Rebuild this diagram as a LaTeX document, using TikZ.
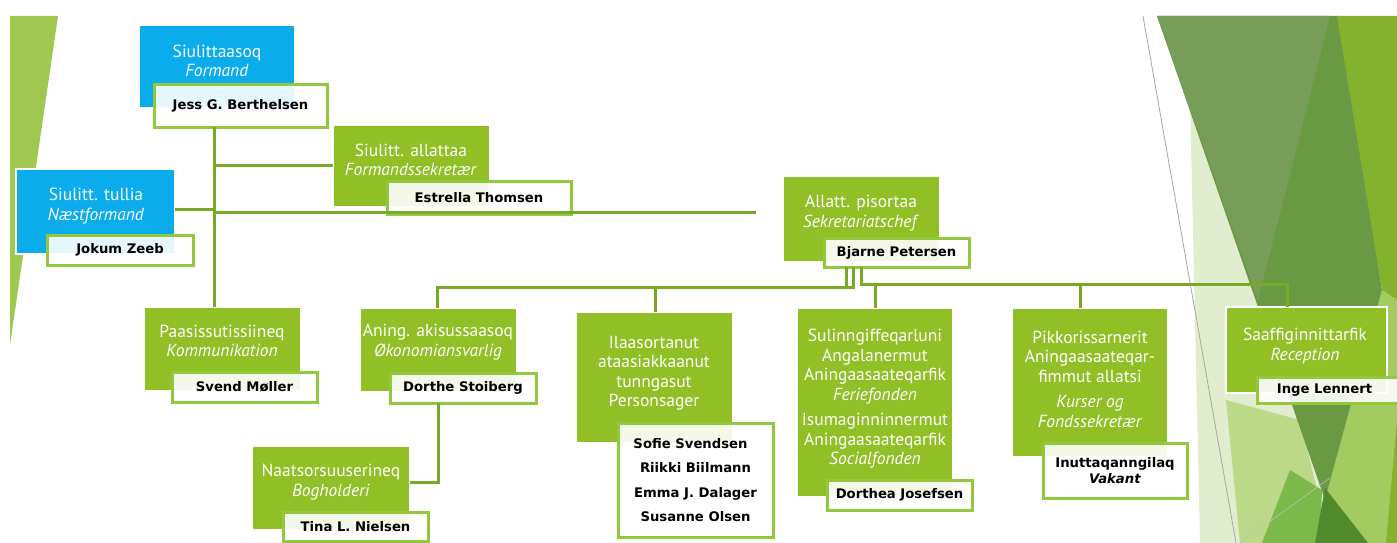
\documentclass[tikz,border=0pt]{standalone}
\usepackage{fontspec}
\setmainfont{PT Sans}
\newfontfamily\namefont{DejaVu Sans}
\definecolor{blueT}{RGB}{10,172,236}
\definecolor{greenT}{RGB}{144,192,38}
\definecolor{nborder}{RGB}{146,200,60}
\definecolor{conncol}{RGB}{120,170,40}
\definecolor{wedge}{RGB}{160,200,80}
\definecolor{bgdark}{RGB}{106,153,68}
\definecolor{bgmuted}{RGB}{120,157,88}
\definecolor{bgbright}{RGB}{132,178,47}
\definecolor{bgpale}{RGB}{226,237,208}
\definecolor{bglight}{RGB}{188,217,138}
\definecolor{bgmid}{RGB}{125,184,74}
\definecolor{bgrlight}{RGB}{163,203,98}
\definecolor{bgdeep}{RGB}{80,138,44}
\begin{document}
\begin{tikzpicture}[x=1pt,y=-1pt,
  tbox/.style={draw=white, line width=1.5pt, anchor=north west, inner sep=0pt, outer sep=0pt},
  ttext/.style={text=white, align=center, inner sep=0pt, font=\fontsize{17.5}{19.5}\selectfont},
  nbox/.style={draw=nborder, line width=3pt, fill=white, fill opacity=.9, text opacity=1, anchor=north west, inner sep=0pt, outer sep=0pt, align=center, font=\namefont\bfseries\fontsize{13.2}{15}\selectfont},
  conn/.style={draw=conncol, line width=3pt}]
\useasboundingbox (0,0) rectangle (1397,543);
% ---------- background ----------
\fill[wedge] (10,16) -- (58,16) -- (10,345) -- cycle;
\fill[bgpale] (1190,100) -- (1200,543) -- (1340,543) -- cycle;
\fill[bglight] (1226,400) -- (1240,543) -- (1330,543) -- (1300,420) -- cycle;
\fill[bgmid] (1290,470) -- (1262,543) -- (1320,543) -- (1322,490) -- cycle;
\fill[bgrlight] (1382,290) -- (1397,300) -- (1397,543) -- (1325,543) -- (1325,500) -- cycle;
\fill[bgdark] (1157,16) -- (1340,16) -- (1382,290) -- (1325,500) -- cycle;
\fill[bgmuted] (1157,16) -- (1330,16) -- (1258,300) -- cycle;
\fill[bgdeep] (1325,488) -- (1315,543) -- (1368,543) -- cycle;
\fill[bgbright] (1337,16) -- (1397,16) -- (1397,300) -- (1382,290) -- cycle;
\fill[bgbright] (1397,420) -- (1397,543) -- (1386,543) -- cycle;
\draw[gray!70, line width=0.8pt] (1143,16) -- (1236,543);
\draw[gray!50, line width=0.6pt] (1240,543) -- (1330,478);
% ---------- boxes ----------
% Formand
\node[tbox, fill=blueT, minimum width=156, minimum height=83] (t1) at (139,25) {};
\node[ttext] (t1l) at (217,61) {Siulittaasoq\\\textit{Formand}};
\node[nbox, minimum width=173, minimum height=43] (n1) at (154,84) {Jess G. Berthelsen};
% Naestformand
\node[tbox, fill=blueT, minimum width=159, minimum height=85] (t2) at (16,169) {};
\node[ttext] (t2l) at (96,206) {Siulitt. tullia\\\textit{Næstformand}};
\node[nbox, minimum width=146, minimum height=30] (n2) at (47,235) {Jokum Zeeb};
% Formandssekretaer
\node[tbox, fill=greenT, minimum width=157, minimum height=82] (t3) at (333,125) {};
\node[ttext] (t3l) at (411,160) {Siulitt. allattaa\\\textit{Formandssekretær}};
\node[nbox, minimum width=184, minimum height=33] (n3) at (387,181) {Estrella Thomsen};
% Sekretariatschef
\node[tbox, fill=greenT, minimum width=157, minimum height=86] (t4) at (783,176) {};
\node[ttext] (t4l) at (861,213) {Allatt. pisortaa\\\textit{Sekretariatschef}};
\node[nbox, minimum width=145, minimum height=29] (n4) at (824,238) {Bjarne Petersen};
% Kommunikation
\node[tbox, fill=greenT, minimum width=157, minimum height=84] (t5) at (144,307) {};
\node[ttext] (t5l) at (222,341) {Paasissutissiineq\\\textit{Kommunikation}};
\node[nbox, minimum width=145, minimum height=30] (n5) at (172,372) {Svend Møller};
% Okonomiansvarlig
\node[tbox, fill=greenT, minimum width=157, minimum height=84] (t6) at (360,308) {};
\node[ttext] (t6l) at (438,342) {Aning. akisussaasoq\\\textit{Økonomiansvarlig}};
\node[nbox, minimum width=146, minimum height=30] (n6) at (390,373) {Dorthe Stoiberg};
% Bogholderi
\node[tbox, fill=greenT, minimum width=158, minimum height=84] (t7) at (252,446) {};
\node[ttext] (t7l) at (331,482) {Naatsorsuuserineq\\\textit{Bogholderi}};
\node[nbox, minimum width=145, minimum height=29] (n7) at (283,512) {Tina L. Nielsen};
% Personsager
\node[tbox, fill=greenT, minimum width=157, minimum height=131] (t8) at (576,312) {};
\node[ttext] (t8l) at (654,373) {Ilaasortanut\\ataasiakkaanut\\tunngasut\\Personsager};
\node[nbox, minimum width=155, minimum height=114, font=\namefont\bfseries\fontsize{13.2}{24.5}\selectfont] (n8) at (618,423) {\hspace*{-10pt}Sofie Svendsen\\Riikki Biilmann\\Emma J. Dalager\\Susanne Olsen};
% Fonde
\node[tbox, fill=greenT, minimum width=156, minimum height=189] (t9) at (797,308) {};
\node[ttext] (t9l) at (875,399) {Sulinngiffeqarluni\\Angalanermut\\Aningaasaateqarfik\\\textit{Feriefonden}\\[6pt]Isumaginninnermut\\Aningaasaateqarfik\\\textit{Socialfonden}};
\node[nbox, minimum width=145, minimum height=30] (n9) at (827,480) {Dorthea Josefsen};
% Kurser
\node[tbox, fill=greenT, minimum width=156, minimum height=149] (t10) at (1012,308) {};
\node[ttext] (t10l) at (1090,379) {Pikkorissarnerit\\Aningaasaateqar-\\fimmut allatsi\\[6pt]\textit{Kurser og}\\\textit{Fondssekretær}};
\node[nbox, minimum width=144, minimum height=55, font=\namefont\bfseries\fontsize{13.2}{16}\selectfont] (n10) at (1043,443) {Inuttaqanngilaq\\\textit{Vakant}};
% Reception
\node[tbox, fill=greenT, minimum width=161, minimum height=86] (t11) at (1226,307) {};
\node[ttext] (t11l) at (1305,346) {Saaffiginnittarfik\\\textit{Reception}};
\node[nbox, minimum width=145, minimum height=26] (n11) at (1257,377) {\hspace*{-10pt}Inge Lennert};
% ---------- connectors ----------
\coordinate (v1) at (214,0);
\coordinate (h3) at (0,165);
\coordinate (h2) at (0,209);
\coordinate (fe) at (756,212);
\coordinate (a6) at (437,0);
\coordinate (a8) at (655,0);
\coordinate (a9) at (875,0);
\coordinate (a10) at (1080,0);
\coordinate (a11) at (1287,0);
\coordinate (b1) at (846,0);
\coordinate (b2) at (853,0);
\coordinate (b3) at (861,0);
\coordinate (busL) at (0,287);
\coordinate (busR) at (0,284);
\coordinate (k7) at (438,482);
\draw[conn] (n1.south -| v1) -- (t5.north -| v1);
\draw[conn] (v1 |- h3) -- (t3.west |- h3);
\draw[conn] (t2.east |- h2) -- (v1 |- h2);
\draw[conn] (v1 |- fe) -- (fe);
\draw[conn] (n4.south -| b1) |- (busL -| a6) -- (t6.north -| a6);
\draw[conn] (n4.south -| b2) |- (busL -| a8) -- (t8.north -| a8);
\draw[conn] (n4.south -| b3) |- (busR -| a9) -- (t9.north -| a9);
\draw[conn] (busR -| a9) -| (t10.north -| a10);
\draw[conn] (busR -| a10) -| (t11.north -| a11);
\draw[conn] (n6.south -| k7) |- (t7.east |- k7);
\end{tikzpicture}
\end{document}
